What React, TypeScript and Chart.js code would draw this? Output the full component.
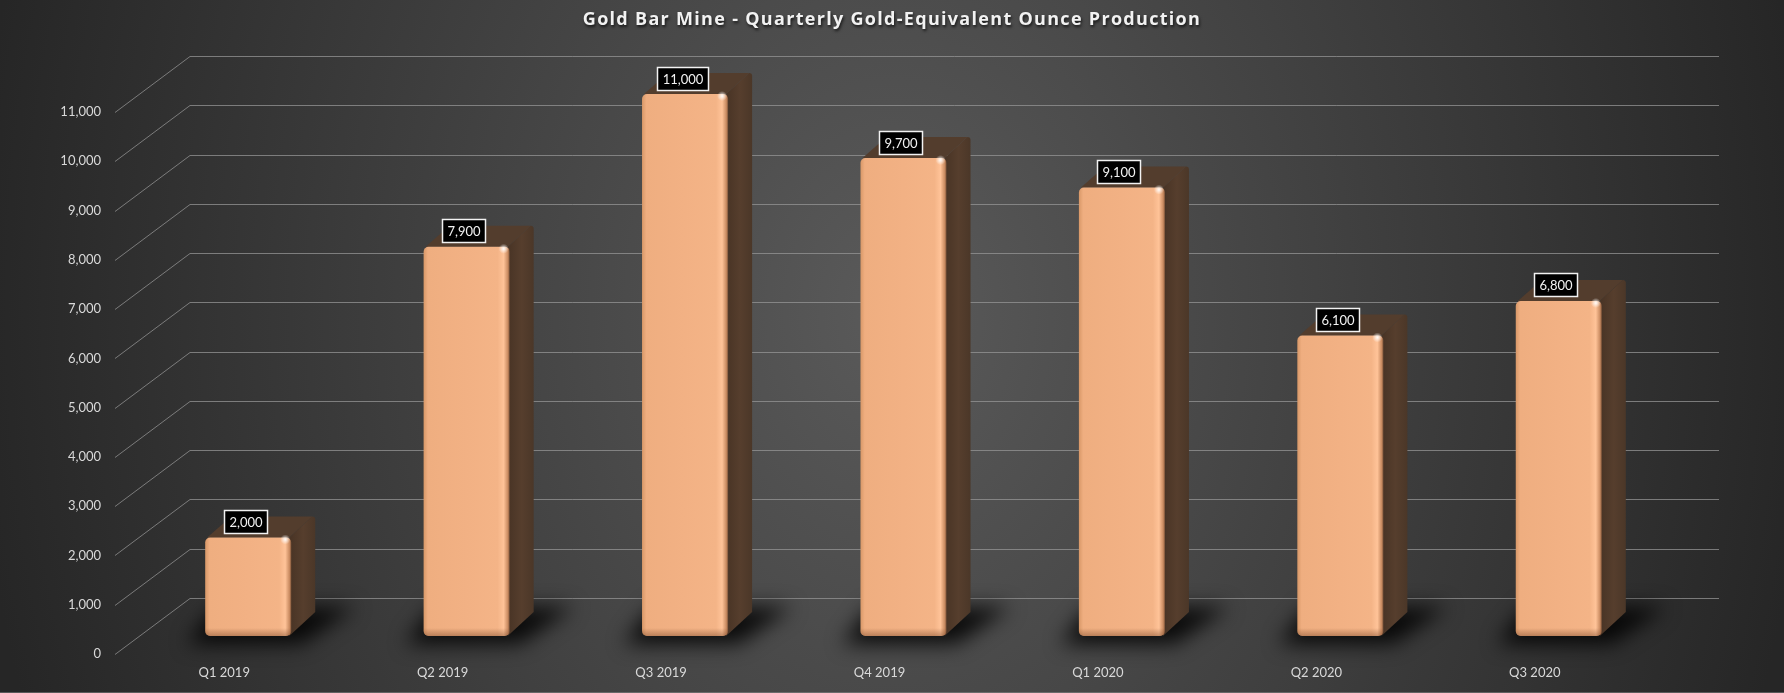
import { useEffect, useRef } from "react";
import { Chart, registerables } from "chart.js";
import type { Plugin } from "chart.js";

Chart.register(...registerables);

const TITLE = "Gold Bar Mine - Quarterly Gold-Equivalent Ounce Production";
const quarters = ["Q1 2019", "Q2 2019", "Q3 2019", "Q4 2019", "Q1 2020", "Q2 2020", "Q3 2020"];
const ounces = [2000, 7900, 11000, 9700, 9100, 6100, 6800];
const yTicks = [0, 1000, 2000, 3000, 4000, 5000, 6000, 7000, 8000, 9000, 10000, 11000];

// fake 3d: front plane -> back wall, front plane -> bar front face, bar depth
const WALL = { dx: 75, dy: -56 };
const FACE = { dx: 24, dy: -18 };
const DEPTH = { dx: 24, dy: -21 };
const FONT = "Lato, 'Open Sans', sans-serif";

const fmt = (v: number) => v.toLocaleString("en-US");

const wallPlugin: Plugin<"bar"> = {
  id: "wall",
  beforeDatasetsDraw(chart) {
    const { ctx, chartArea } = chart;
    const y = chart.scales.y;
    ctx.save();
    ctx.strokeStyle = "rgba(150,150,150,0.75)";
    ctx.lineWidth = 1;
    y.ticks.forEach((t) => {
      const py = Math.round(y.getPixelForValue(t.value)) + 0.5;
      ctx.beginPath();
      ctx.moveTo(chartArea.left, py);
      ctx.lineTo(chartArea.left + WALL.dx, py + WALL.dy);
      ctx.lineTo(chartArea.right + WALL.dx, py + WALL.dy);
      ctx.stroke();
    });
    ctx.restore();
  },
};

const barsPlugin: Plugin<"bar"> = {
  id: "bars3d",
  afterDatasetsDraw(chart) {
    const { ctx } = chart;
    const meta = chart.getDatasetMeta(0);
    const boxes = meta.data.map((el: any) => {
      const p = el.getProps(["x", "y", "base", "width"], true);
      const L = p.x - p.width / 2 + FACE.dx;
      return { L, R: L + p.width, T: p.y + FACE.dy, B: p.base + FACE.dy };
    });

    // floor shadows
    ctx.save();
    ctx.filter = "blur(10px)";
    ctx.fillStyle = "rgba(0,0,0,0.85)";
    boxes.forEach(({ L, R, B }) => {
      ctx.beginPath();
      ctx.moveTo(L - 18, B + 8);
      ctx.lineTo(R + 10, B + 8);
      ctx.lineTo(R + DEPTH.dx + 40, B + DEPTH.dy - 8);
      ctx.lineTo(L + 10, B + DEPTH.dy - 8);
      ctx.closePath();
      ctx.fill();
    });
    ctx.restore();

    boxes.forEach(({ L, R, T, B }) => {
      ctx.save();
      // side face
      const side = ctx.createLinearGradient(R, 0, R + DEPTH.dx, 0);
      side.addColorStop(0, "#4a3526");
      side.addColorStop(0.5, "#563e2d");
      side.addColorStop(1, "#4b3728");
      ctx.fillStyle = side;
      ctx.beginPath();
      ctx.moveTo(R - 2, T);
      ctx.lineTo(R + DEPTH.dx - 3, T + DEPTH.dy);
      ctx.quadraticCurveTo(R + DEPTH.dx, T + DEPTH.dy, R + DEPTH.dx, T + DEPTH.dy + 3);
      ctx.lineTo(R + DEPTH.dx, B + DEPTH.dy - 3);
      ctx.lineTo(R - 2, B);
      ctx.closePath();
      ctx.fill();
      // top face
      ctx.fillStyle = "#533d2d";
      ctx.beginPath();
      ctx.moveTo(L + 2, T);
      ctx.lineTo(L + DEPTH.dx + 2, T + DEPTH.dy);
      ctx.lineTo(R + DEPTH.dx - 3, T + DEPTH.dy);
      ctx.lineTo(R - 2, T);
      ctx.closePath();
      ctx.fill();

      // front face
      const front = ctx.createLinearGradient(L, 0, R, 0);
      front.addColorStop(0, "#d89868");
      front.addColorStop(0.05, "#efae80");
      front.addColorStop(0.5, "#f2b184");
      front.addColorStop(0.86, "#f4b487");
      front.addColorStop(0.93, "#ffc398");
      front.addColorStop(0.98, "#c88a60");
      front.addColorStop(1, "#7a5238");
      ctx.fillStyle = front;
      ctx.beginPath();
      ctx.roundRect(L, T, R - L, B - T, 5);
      ctx.fill();
      const shade = ctx.createLinearGradient(0, B - 8, 0, B);
      shade.addColorStop(0, "rgba(120,70,40,0)");
      shade.addColorStop(1, "rgba(120,70,40,0.45)");
      ctx.fillStyle = shade;
      ctx.beginPath();
      ctx.roundRect(L, B - 8, R - L, 8, [0, 0, 5, 5]);
      ctx.fill();
      const glint = ctx.createRadialGradient(R - 6, T + 2, 0, R - 6, T + 2, 5);
      glint.addColorStop(0, "rgba(255,255,255,0.95)");
      glint.addColorStop(1, "rgba(255,255,255,0)");
      ctx.fillStyle = glint;
      ctx.fillRect(R - 12, T - 3, 12, 10);
      ctx.restore();
    });

    // value labels
    ctx.save();
    ctx.font = `13px ${FONT}`;
    ctx.textAlign = "center";
    ctx.textBaseline = "middle";
    boxes.forEach(({ L, R, T }, i) => {
      const text = fmt(ounces[i]);
      const w = Math.round(ctx.measureText(text).width) + 10;
      const cx = Math.round((L + R) / 2 - 2.5);
      const cy = Math.round(T - 15.5);
      const bx = cx - w / 2;
      const by = cy - 11.5;
      ctx.fillStyle = "#000";
      ctx.fillRect(bx, by, w, 23);
      ctx.strokeStyle = "#f2f2f2";
      ctx.lineWidth = 1.5;
      ctx.strokeRect(bx, by, w, 23);
      ctx.fillStyle = "#f2f2f2";
      ctx.fillText(text, cx, cy + 1);
    });
    ctx.restore();
  },
};

const titlePlugin: Plugin<"bar"> = {
  id: "title3d",
  afterDraw(chart) {
    const { ctx } = chart;
    ctx.save();
    ctx.font = `bold 18px 'Open Sans', sans-serif`;
    (ctx as any).letterSpacing = "1.3px";
    ctx.textAlign = "center";
    ctx.textBaseline = "middle";
    ctx.shadowColor = "rgba(0,0,0,0.7)";
    ctx.shadowBlur = 3;
    ctx.shadowOffsetX = 1;
    ctx.shadowOffsetY = 2;
    ctx.fillStyle = "#f2f2f2";
    ctx.fillText(TITLE, 892, 20);
    ctx.restore();
    // faint strip along the bottom edge
    ctx.save();
    ctx.strokeStyle = "rgba(150,150,150,0.45)";
    ctx.beginPath();
    ctx.moveTo(0, 692.5);
    ctx.lineTo(1784, 692.5);
    ctx.stroke();
    ctx.restore();
  },
};

export default function App() {
  const canvasRef = useRef<HTMLCanvasElement>(null);

  useEffect(() => {
    document.body.style.margin = "0";
    document.body.style.overflow = "hidden";
    if (!canvasRef.current) return;
    const chart = new Chart(canvasRef.current, {
      type: "bar",
      data: {
        labels: quarters,
        datasets: [
          {
            data: ounces,
            backgroundColor: "rgba(0,0,0,0)",
            categoryPercentage: 1,
            barPercentage: 0.394,
          },
        ],
      },
      options: {
        responsive: false,
        animation: false,
        devicePixelRatio: 1,
        layout: { padding: { left: 0, right: 140, top: 112, bottom: 0 } },
        plugins: { legend: { display: false }, tooltip: { enabled: false }, title: { display: false } },
        scales: {
          x: {
            grid: { display: false, drawTicks: false },
            border: { display: false },
            ticks: { color: "#d9d9d9", font: { family: FONT, size: 13 }, padding: 11, maxRotation: 0 },
            afterFit: (s: any) => {
              s.height = 39;
            },
          },
          y: {
            min: 0,
            max: 11000,
            grid: { display: false, drawTicks: false },
            border: { display: false },
            afterBuildTicks: (s: any) => {
              s.ticks = yTicks.map((v) => ({ value: v }));
            },
            ticks: {
              color: "#d9d9d9",
              font: { family: FONT, size: 13 },
              padding: 14,
              callback: (v) => fmt(Number(v)),
            },
            afterFit: (s: any) => {
              s.width = 115;
            },
          },
        },
      },
      plugins: [wallPlugin, barsPlugin, titlePlugin],
    });
    return () => chart.destroy();
  }, []);

  return (
    <div
      style={{
        width: 1784,
        height: 693,
        background: "radial-gradient(ellipse 920px 1200px at 50% 45%, #5a5a5a 0%, #262626 100%)",
      }}
    >
      <canvas ref={canvasRef} width={1784} height={693} />
    </div>
  );
}
